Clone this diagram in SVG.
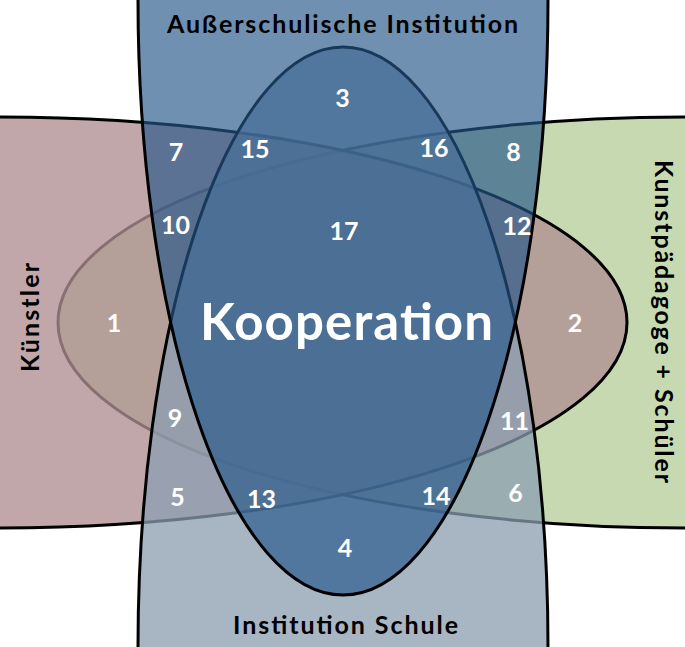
<svg xmlns="http://www.w3.org/2000/svg" width="685" height="647" viewBox="0 0 685 647">
  <style>
    .edge { stroke: #000; stroke-width: 3; }
    .title { font-family: Lato, "Open Sans", "Liberation Sans", sans-serif; font-weight: bold; font-size: 25px; fill: #000; }
    .num { font-family: Lato, "Open Sans", "Liberation Sans", sans-serif; font-weight: bold; font-size: 25px; fill: #fff; text-anchor: middle; }
    .big { font-family: Lato, "Open Sans", "Liberation Sans", sans-serif; font-weight: bold; font-size: 51px; fill: #fff; text-anchor: middle; }
  </style>
  <rect width="685" height="647" fill="#fff"/>
  <g id="kunstpaedagoge-schueler">
    <ellipse class="edge" cx="685" cy="322.5" rx="627" ry="205.5" fill="#c6d9b1"/>
  </g>
  <g id="kuenstler">
    <ellipse class="edge" cx="0" cy="322.5" rx="627" ry="205.5" fill="#b08e92" fill-opacity="0.78"/>
  </g>
  <g id="institution-schule">
    <ellipse class="edge" cx="343" cy="647" rx="205" ry="600" fill="#8b9eb0" fill-opacity="0.75"/>
  </g>
  <g id="ausserschulische-institution">
    <ellipse class="edge" cx="343" cy="0" rx="205" ry="595" fill="#26578a" fill-opacity="0.66"/>
  </g>
  <g id="labels">
    <text class="title" x="342.5" y="33" text-anchor="middle" textLength="351" lengthAdjust="spacing">Außerschulische Institution</text>
    <text class="title" x="345.5" y="634" text-anchor="middle" textLength="225" lengthAdjust="spacing">Institution Schule</text>
    <text class="title" transform="translate(39,317.5) rotate(-90)" text-anchor="middle" textLength="109" lengthAdjust="spacing">Künstler</text>
    <text class="title" transform="translate(655,321.5) rotate(90)" text-anchor="middle" textLength="323" lengthAdjust="spacing">Kunstpädagoge + Schüler</text>
  </g>
  <g id="kooperation">
    <text class="big" x="346.5" y="340" textLength="293" lengthAdjust="spacing">Kooperation</text>
  </g>
  <g id="region-numbers">
    <text class="num" x="114" y="332">1</text>
    <text class="num" x="575" y="331.5">2</text>
    <text class="num" x="342.5" y="107">3</text>
    <text class="num" x="345" y="556.5">4</text>
    <text class="num" x="177.5" y="505.5">5</text>
    <text class="num" x="515.5" y="501.5">6</text>
    <text class="num" x="176" y="161">7</text>
    <text class="num" x="513.5" y="161">8</text>
    <text class="num" x="175" y="427">9</text>
    <text class="num" x="175.5" y="234">10</text>
    <text class="num" x="514.5" y="430">11</text>
    <text class="num" x="517" y="235">12</text>
    <text class="num" x="261.5" y="507.5">13</text>
    <text class="num" x="436" y="504.5">14</text>
    <text class="num" x="255" y="157.5">15</text>
    <text class="num" x="434" y="156.5">16</text>
    <text class="num" x="344" y="240">17</text>
  </g>
</svg>
